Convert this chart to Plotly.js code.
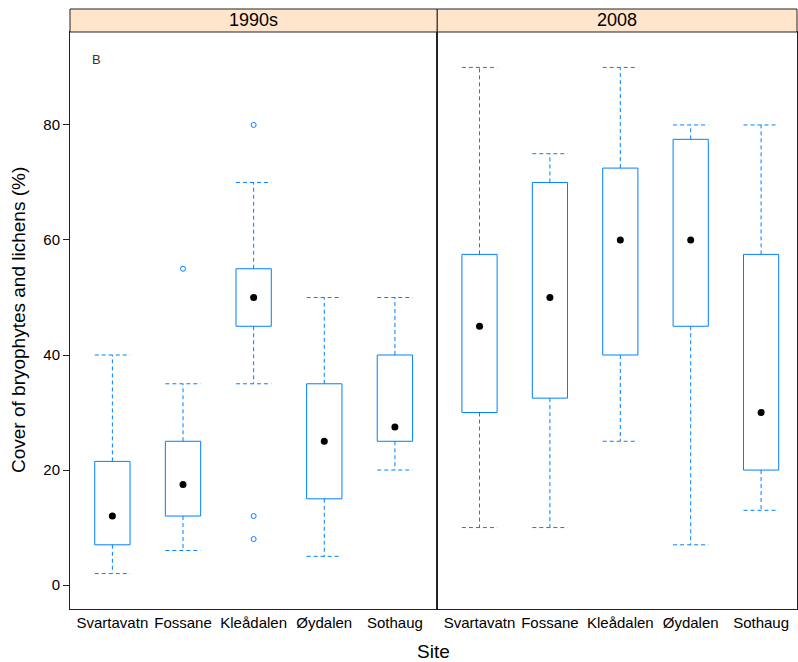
<!DOCTYPE html>
<html>
<head>
<meta charset="utf-8">
<script src="https://cdn.plot.ly/plotly-3.0.1.min.js"></script>
<style>html,body{margin:0;padding:0;background:#fff;}</style>
</head>
<body>
<div id="chart" style="width:798px;height:662px;"></div>
<script>
// ---- data ----
const sites = ["Svartavatn", "Fossane", "Kleådalen", "Øydalen", "Sothaug"];
const panels = ["1990s", "2008"];

// 1990s
const lower90 = [2, 6, 35, 5, 20];
const q1_90   = [7, 12, 45, 15, 25];
const med90   = [12, 17.5, 50, 25, 27.5];
const q3_90   = [21.5, 25, 55, 35, 40];
const upper90 = [40, 35, 70, 50, 50];
const outSite90 = ["Fossane", "Kleådalen", "Kleådalen", "Kleådalen"];
const outVal90  = [55, 80, 12, 8];

// 2008
const lower08 = [10, 10, 25, 7, 13];
const q1_08   = [30, 32.5, 40, 45, 20];
const med08   = [45, 50, 60, 60, 30];
const q3_08   = [57.5, 70, 72.5, 77.5, 57.5];
const upper08 = [90, 75, 90, 80, 80];
const outSite08 = [];
const outVal08  = [];

const yTicks = [0, 20, 40, 60, 80];

// ---- build ----
const BLUE = "#0080ff";
const HW = 0.25; // half box width in category units

function panelTraces(lo, q1, med, q3, up, oSite, oVal, xa, ya) {
  const bx = [], by = [], wx = [], wy = [];
  sites.forEach((s, i) => {
    const c = i + 1;
    bx.push(c - HW, c + HW, c + HW, c - HW, c - HW, null);
    by.push(q1[i], q1[i], q3[i], q3[i], q1[i], null);
    // whiskers
    wx.push(c, c, null, c, c, null);
    wy.push(q3[i], up[i], null, q1[i], lo[i], null);
    // caps
    wx.push(c - HW, c + HW, null, c - HW, c + HW, null);
    wy.push(up[i], up[i], null, lo[i], lo[i], null);
  });
  const ox = oSite.map(s => sites.indexOf(s) + 1);
  return [
    {type: "scatter", mode: "lines", x: wx, y: wy, xaxis: xa, yaxis: ya,
     line: {color: BLUE, width: 1, dash: "4px,3px"}, hoverinfo: "skip", showlegend: false},
    {type: "scatter", mode: "lines", x: bx, y: by, xaxis: xa, yaxis: ya,
     line: {color: BLUE, width: 1}, hoverinfo: "skip", showlegend: false},
    {type: "scatter", mode: "markers", x: sites.map((s, i) => i + 1), y: med, xaxis: xa, yaxis: ya,
     marker: {color: "#000", size: 7}, showlegend: false},
    {type: "scatter", mode: "markers", x: ox, y: oVal, xaxis: xa, yaxis: ya,
     marker: {color: BLUE, size: 5, symbol: "circle-open", line: {width: 1, color: BLUE}}, showlegend: false}
  ];
}

const data = [
  ...panelTraces(lower90, q1_90, med90, q3_90, upper90, outSite90, outVal90, "x", "y"),
  ...panelTraces(lower08, q1_08, med08, q3_08, upper08, outSite08, outVal08, "x2", "y2")
];

const split = 0.5052;
const stripH = 23 / 577;
const FONT = "Liberation Sans, Arial, sans-serif";

const xCommon = {
  tickvals: [1, 2, 3, 4, 5], ticktext: sites, ticks: "", showgrid: false, zeroline: false,
  showline: true, mirror: true, linecolor: "#222", linewidth: 1,
  tickfont: {family: FONT, size: 15, color: "#000"}, fixedrange: true
};

const layout = {
  width: 798, height: 662,
  margin: {l: 70, r: 1, t: 32, b: 53},
  paper_bgcolor: "#fff", plot_bgcolor: "#fff",
  font: {family: FONT, color: "#000"},
  showlegend: false,
  xaxis: Object.assign({}, xCommon, {domain: [0, split], range: [0.4, 5.6], anchor: "y"}),
  xaxis2: Object.assign({}, xCommon, {domain: [split, 1], range: [0.4, 5.51], anchor: "y2"}),
  yaxis: {
    range: [-4.16, 96.16], tickvals: yTicks, ticks: "outside", ticklen: 6, tickcolor: "#222",
    showgrid: false, zeroline: false, showline: true, mirror: true, linecolor: "#222",
    tickfont: {family: FONT, size: 15, color: "#000"}, anchor: "x"
  },
  yaxis2: {
    range: [-4.16, 96.16], matches: "y", showticklabels: false, ticks: "", showgrid: false,
    zeroline: false, showline: true, mirror: true, linecolor: "#222", anchor: "x2"
  },
  shapes: [
    {type: "rect", xref: "paper", yref: "paper", x0: 0, x1: split, y0: 1, y1: 1 + stripH,
     fillcolor: "#ffe5cc", line: {color: "#222", width: 1}},
    {type: "rect", xref: "paper", yref: "paper", x0: split, x1: 1, y0: 1, y1: 1 + stripH,
     fillcolor: "#ffe5cc", line: {color: "#222", width: 1}}
  ],
  annotations: [
    {text: panels[0], xref: "paper", yref: "paper", x: split / 2, y: 1 + stripH / 2,
     showarrow: false, xanchor: "center", yanchor: "middle", font: {size: 18, family: FONT, color: "#000"}},
    {text: panels[1], xref: "paper", yref: "paper", x: (split + 1) / 2, y: 1 + stripH / 2,
     showarrow: false, xanchor: "center", yanchor: "middle", font: {size: 18, family: FONT, color: "#000"}},
    {text: "B", xref: "x", yref: "paper", x: 0.78, y: (609 - 59) / 577,
     showarrow: false, xanchor: "center", yanchor: "middle", font: {size: 13, family: FONT, color: "#333"}},
    {text: "Cover of bryophytes and lichens (%)", xref: "paper", yref: "paper",
     x: -(70 - 18) / 727, y: (609 - 320) / 577, textangle: -90, showarrow: false,
     xanchor: "center", yanchor: "middle", font: {size: 19, family: FONT, color: "#000"}},
    {text: "Site", xref: "paper", yref: "paper", x: 0.5, y: -(651 - 609) / 577,
     showarrow: false, xanchor: "center", yanchor: "middle", font: {size: 19, family: FONT, color: "#000"}}
  ]
};

Plotly.newPlot("chart", data, layout, {staticPlot: true, displayModeBar: false});
</script>
</body>
</html>
